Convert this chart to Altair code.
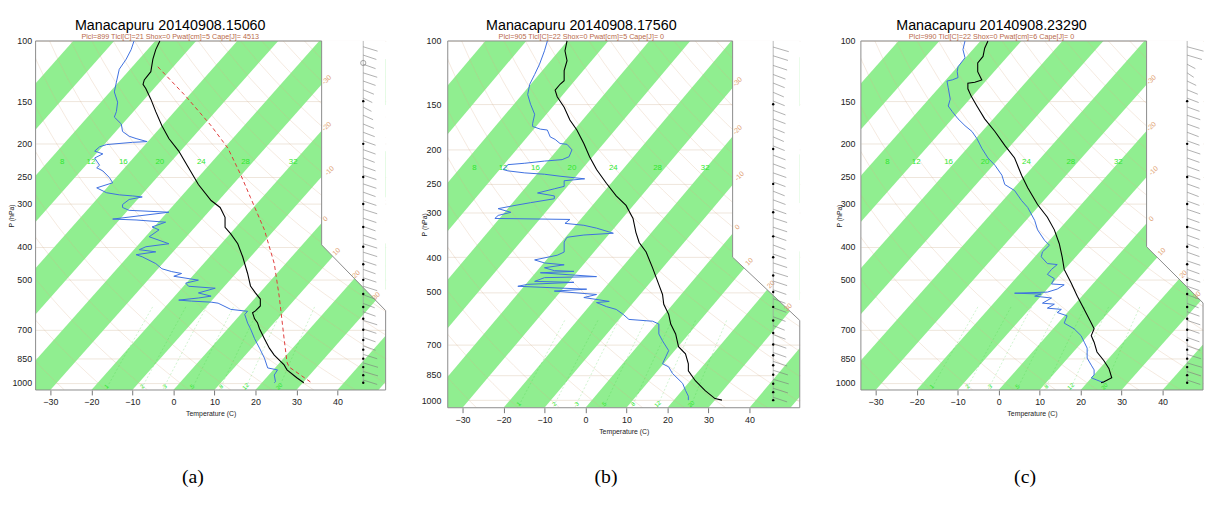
import altair as alt
import pandas as pd
import numpy as np

# ---------------- diagram constants ----------------
SKEW = 74.0            # display degC shift per decade of pressure (skew-T, relative to 1050 hPa)
P_BOTTOM = 1050
P_TOP = 100
P_TICKS = [100, 150, 200, 250, 300, 400, 500, 700, 850, 1000]
T_TICKS = [-30, -20, -10, 0, 10, 20, 30, 40]
BAND_T0 = [-120, -100, -80, -60, -40, -20, 0, 20, 40]
BAND_WIDTH = 10
THETA_C = list(range(-30, 200, 10))
ADIABAT_P = [100, 115, 130, 150, 170, 200, 230, 260, 300, 350, 400, 450, 500,
             550, 600, 650, 700, 750, 800, 850, 900, 950, 1000, 1050]
MIXR_W = [1, 2, 3, 5, 8, 12, 20]
MIXR_P = [600, 700, 800, 900, 1050]

MOIST_LABELS = ["8", "12", "16", "20", "24", "28", "32"]
MOIST_LABEL_T = [-27.1, -20.1, -12.2, -3.3, 6.8, 17.6, 29.2]
MOIST_LABEL_P = 226
MIX_LABELS = ["1", "2", "3", "5", "8", "12", "20"]
MIX_LABEL_T = [-16.3, -7.6, -2.1, 4.6, 11.6, 17.6, 25.8]
MIX_LABEL_P = 1025
ISO_LABELS = ["-30", "-20", "-10", "0", "10", "20", "30"]

BARB_P = [104, 110, 117, 124, 131, 139, 147, 156, 165, 175, 185, 196, 208, 220, 233,
          247, 262, 277, 294, 311, 330, 349, 370, 392, 415, 440, 466, 493, 522, 553,
          586, 620, 657, 696, 737, 780, 826, 875, 927, 982]
DOT_P = [150, 200, 250, 300, 350, 400, 450, 500, 550, 600, 650, 700, 750, 800,
         850, 900, 950, 1000]

# ---------------- panel (a) ----------------
A_TEMP_P = [100, 106, 113, 123, 130, 134, 138, 148, 161, 177, 193, 210, 235, 263, 293,
            307, 328, 351, 367, 392, 428, 479, 521, 546, 569, 596, 616, 624, 650, 667,
            695, 743, 792, 830, 887, 917, 967, 1000]
A_TEMP_T = [-3.3, -4.3, -5.0, -5.5, -7.1, -7.4, -6.7, -5.5, -4.3, -2.8, -1.1, 1.3, 3.7, 6.1, 9.2,
            11.4, 12.6, 12.6, 14.0, 15.7, 16.9, 18.1, 18.8, 20.0, 21.2, 21.2, 20.0, 19.3, 19.8, 20.5,
            21.0, 22.2, 23.4, 24.6, 27.0, 27.7, 30.1, 31.8]
A_DEW_P = [100, 106, 113, 121, 132, 141, 151, 161, 167, 175, 184, 190, 193, 197, 198,
           201, 204, 210, 214, 220, 231, 235, 240, 251, 260, 269, 278, 282, 284, 286,
           291, 301, 307, 313, 317, 332, 334, 339, 350, 357, 374, 392, 400, 408, 414,
           422, 428, 448, 464, 473, 479, 488, 501, 511, 522, 529, 546, 558, 565, 573,
           577, 581, 585, 610, 618, 631, 669, 695, 743, 792, 847, 905, 917, 949, 993, 1000]
A_DEW_T = [-9.6, -10.3, -11.5, -13.2, -13.9, -14.4, -13.6, -13.9, -14.4, -12.7, -12.4, -10.8, -9.1, -6.4, -10.0,
           -16.3, -18.0, -19.2, -17.2, -19.2, -18.0, -18.7, -17.2, -15.6, -14.8, -18.7, -16.3, -13.2, -10.0, -7.6,
           -10.8, -12.4, -12.4, -10.8, -1.1, -14.8, -9.1, -1.9, -5.2, -3.5, -5.9, -1.1, -6.7, -8.3, -4.3,
           -9.1, -7.6, -4.3, -2.8, -0.4, 2.0, 0.1, 6.1, 3.0, 3.7, 10.2, 6.1, 9.2, 6.1, 1.3,
           4.4, 9.2, 10.9, 14.0, 18.1, 17.4, 18.1, 18.8, 19.8, 21.0, 22.2, 23.0, 25.4, 24.6, 24.9, 24.6]
A_PARCEL_P = [119, 145, 177, 206, 246, 287, 357, 448, 558, 743, 870, 899, 1000]
A_PARCEL_T = [-3.8, 3.0, 9.2, 13.3, 16.4, 18.8, 22.2, 24.6, 25.8, 27.0, 27.7, 28.2, 33.7]
A_ISO_T = [37.4, 37.4, 38.1, 37.1, 39.8, 44.6, 49.5]
A_ISO_P = [130, 178, 240, 332, 414, 482, 558]
A_BARB_LEN = [3.5, 3.2, 3.0, 3.4, 3.0, 2.6, 2.2, 2.0, 2.4, 2.6, 2.8, 3.0, 3.0, 2.8, 3.0,
              3.2, 3.2, 3.0, 3.2, 3.4, 3.2, 3.0, 3.2, 3.4, 3.4, 3.2, 3.0, 3.2, 3.4, 3.0,
              2.8, 3.0, 3.4, 3.2, 3.0, 3.0, 3.4, 3.6, 3.6, 3.4]

# ---------------- panel (b) ----------------
B_TEMP_P = [100, 106.5, 113.5, 121, 129, 132, 137, 143, 153, 166, 177, 193, 210, 228, 249,
            270, 287, 312, 341, 364, 387, 429, 477, 508, 541, 577, 614, 654, 710, 743,
            792, 829, 883, 941, 990, 1000]
B_TEMP_T = [-4.5, -5.0, -4.5, -5.2, -5.2, -6.2, -7.4, -6.9, -5.2, -3.8, -2.1, -0.4, 1.0, 2.7, 5.1,
            7.5, 9.9, 11.6, 12.3, 13.1, 14.8, 16.4, 17.9, 18.8, 19.1, 20.3, 20.8, 22.0, 22.7, 24.4,
            25.1, 25.1, 26.8, 29.2, 31.6, 33.3]
B_DEW_P = [100, 106.5, 116, 124, 132, 141, 150, 160, 170, 173, 176, 177, 185, 188, 193,
           194, 201, 210, 214, 216, 219, 221, 228, 230, 233, 235, 238, 242, 245, 254,
           258, 265, 270, 275, 282, 287, 293, 300, 306, 312, 314, 322, 326, 332, 343,
           347, 352, 363, 387, 395, 407, 415, 420, 428, 436, 438, 442, 453, 456, 467,
           470, 476, 482, 491, 497, 508, 518, 531, 535, 549, 559, 577, 596, 603, 614,
           654, 684, 728, 757, 792, 808, 842, 898, 939, 975, 1000]
B_DEW_T = [-9.3, -10.0, -11.2, -12.4, -13.6, -14.1, -13.4, -12.4, -12.9, -12.9, -11.0, -9.3, -8.6, -7.4, -6.2,
           -4.5, -3.3, -4.0, -5.7, -10.0, -14.8, -18.9, -20.1, -18.9, -14.8, -10.0, -6.2, -0.2, -5.2, -5.2,
           -7.6, -11.7, -7.6, -7.6, -13.4, -17.2, -21.3, -18.2, -21.3, -22.1, -3.8, -5.0, -0.4, 2.7, 6.8,
           -0.4, -4.5, -5.2, -5.2, -6.9, -12.4, -10.0, -5.2, -10.0, -7.6, -2.8, -11.0, 2.7, -10.0, -12.4,
           -2.8, -14.1, -16.5, 0.3, -7.6, 2.7, -0.4, 5.8, 2.7, 5.1, 7.5, 9.2, 10.6, 16.4, 17.9,
           17.9, 18.8, 20.3, 19.6, 18.8, 20.3, 21.2, 23.7, 24.4, 25.1, 25.1]
B_ISO_T = [37.1, 37.1, 37.6, 37.1, 40.0, 45.3, 49.5]
B_ISO_P = [130, 177, 238, 330, 412, 477, 552]
B_BARB_LEN = [3.8, 3.6, 3.4, 3.0, 2.8, 2.6, 2.8, 3.0, 3.0, 2.8, 2.6, 2.8, 3.0, 3.0, 3.2,
              3.0, 2.8, 3.0, 3.2, 3.4, 3.4, 3.2, 3.0, 3.2, 3.4, 3.6, 3.4, 3.2, 3.0, 3.2,
              3.0, 2.8, 3.0, 3.2, 3.2, 3.4, 3.6, 3.8, 3.6, 3.4]

# ---------------- panel (c) ----------------
C_TEMP_P = [100, 105, 111, 116, 123, 130, 132, 133, 138, 145, 155, 169, 184, 202, 220,
            247, 269, 301, 328, 357, 392, 428, 466, 511, 558, 610, 669, 695, 728, 761,
            813, 862, 908, 967, 993, 1000]
C_TEMP_T = [-2.6, -3.4, -3.8, -5.1, -5.1, -4.1, -5.8, -7.5, -7.5, -6.7, -5.3, -3.4, -0.9, 1.5, 3.9,
            5.6, 7.1, 9.5, 11.9, 13.6, 14.8, 15.5, 16.0, 17.7, 19.2, 20.9, 22.6, 23.3, 22.6, 23.3,
            24.0, 25.7, 26.9, 27.6, 25.7, 25.0]
C_DEW_P = [100, 106, 112, 119, 123, 128, 130, 131, 137, 148, 155, 161, 169, 177, 184,
           193, 206, 220, 231, 247, 263, 274, 293, 307, 335, 357, 383, 396, 414, 428,
           448, 451, 466, 482, 496, 514, 517, 532, 543, 547, 550, 558, 565, 585, 589,
           605, 610, 623, 637, 669, 695, 728, 761, 792, 847, 888, 917, 949, 967, 980,
           993, 1000]
C_DEW_T = [-8.2, -8.7, -8.2, -9.9, -10.1, -9.9, -11.3, -12.6, -12.3, -11.8, -12.3, -11.3, -9.9, -8.2, -6.5,
           -5.3, -4.1, -2.6, -0.9, 0.8, 1.5, 3.9, 5.6, 7.1, 8.8, 9.5, 11.2, 12.4, 10.7, 10.4,
           11.9, 14.3, 12.9, 11.9, 13.6, 12.9, 16.0, 14.3, 11.9, 3.9, 10.4, 8.8, 12.9, 10.7, 13.6,
           11.9, 15.3, 14.3, 16.7, 16.0, 18.4, 20.1, 20.9, 21.6, 21.6, 22.6, 23.3, 23.3, 22.6, 23.8,
           25.0, 25.7]
C_ISO_T = [37.3, 37.3, 37.8, 37.3, 39.8, 45.1, 48.4]
C_ISO_P = [130, 178, 240, 332, 414, 482, 555]
C_BARB_LEN = [4.0, 3.6, 2.0, 1.6, 2.2, 2.6, 2.8, 3.0, 3.2, 3.0, 2.8, 3.0, 3.2, 3.0, 3.0,
              3.2, 3.0, 2.8, 3.0, 3.2, 3.0, 3.2, 3.0, 2.8, 3.0, 3.2, 3.0, 3.2, 3.0, 3.0,
              2.8, 3.0, 3.2, 3.0, 3.0, 3.2, 3.4, 3.6, 3.4, 3.2]

GREEN = "#90ee90"

PANELS = [
    dict(title="Manacapuru 20140908.15060",
         subtitle="Plcl=899 Tlcl[C]=21 Shox=0 Pwat[cm]=5 Cape[J]= 4513",
         caption="(a)", xmin=-33.6, xmax=51.76, width=355, height=354,
         xcut=36.15, pcut1=395, pcut2=615, staff=46.3, title_dx=-41, cap_off=51, cap_dx=-5,
         lab_pad=4, title_x=-21, temp=(A_TEMP_P, A_TEMP_T), dew=(A_DEW_P, A_DEW_T),
         parcel=(A_PARCEL_P, A_PARCEL_T), iso=(A_ISO_P, A_ISO_T), barb=A_BARB_LEN, circle=True),
    dict(title="Manacapuru 20140908.17560",
         subtitle="Plcl=905 Tlcl[C]=22 Shox=0 Pwat[cm]=5 Cape[J]= 0",
         caption="(b)", xmin=-33.6, xmax=52.28, width=357, height=372,
         xcut=35.9, pcut1=400, pcut2=600, staff=45.8, title_dx=-43, cap_off=33, cap_dx=-5,
         lab_pad=7, title_x=-21, temp=(B_TEMP_P, B_TEMP_T), dew=(B_DEW_P, B_DEW_T),
         parcel=None, iso=(B_ISO_P, B_ISO_T), barb=B_BARB_LEN, circle=False),
    dict(title="Manacapuru 20140908.23290",
         subtitle="Plcl=990 Tlcl[C]=22 Shox=0 Pwat[cm]=6 Cape[J]= 0",
         caption="(c)", xmin=-33.6, xmax=49.87, width=347, height=354,
         xcut=36.1, pcut1=400, pcut2=584, staff=46.0, title_dx=-41, cap_off=51, cap_dx=5,
         lab_pad=6, title_x=-19, temp=(C_TEMP_P, C_TEMP_T), dew=(C_DEW_P, C_DEW_T),
         parcel=None, iso=(C_ISO_P, C_ISO_T), barb=C_BARB_LEN, circle=False),
]


def skew(p):
    return SKEW * np.log10(P_BOTTOM / np.asarray(p, dtype=float))


def build_panel(c):
    xs = alt.Scale(domain=[c["xmin"], c["xmax"]], nice=False, zero=False)
    ys = alt.Scale(type="log", domain=[P_TOP, P_BOTTOM], reverse=True, nice=False)
    ax = alt.Axis(values=T_TICKS, title="Temperature (C)", grid=False, domain=False,
                  ticks=True, tickSize=5, tickColor="#777", labelFontSize=9,
                  labelPadding=3, labelColor="#222", titleFontSize=7,
                  titleFontWeight="normal", titlePadding=3, titleColor="#222",
                  format="d", labelFont="Liberation Sans", titleFont="Liberation Sans")
    ay = alt.Axis(values=P_TICKS, title="P (hPa)", grid=True, gridColor="#eadfd3",
                  gridWidth=0.8, domain=False, ticks=False, labelFontSize=9,
                  labelPadding=c["lab_pad"], labelColor="#222", titleFontSize=7,
                  titleFontWeight="normal", titleX=c["title_x"], titleColor="#222", format="d",
                  labelFont="Liberation Sans", titleFont="Liberation Sans")

    def X(f):
        return alt.X(f, type="quantitative", scale=xs, axis=ax, stack=None)

    def Y(f):
        return alt.Y(f, type="quantitative", scale=ys, axis=ay)

    # isotherm bands (alternate 10 degC isotherm bands)
    rows = []
    for t0 in BAND_T0:
        for p in [P_TOP, P_BOTTOM]:
            s = float(skew(p))
            rows.append(dict(band=t0, p=p, x=t0 + s, x2=t0 + BAND_WIDTH + s))
    bands = alt.Chart(pd.DataFrame(rows)).mark_area(orient="horizontal", clip=True, color=GREEN).encode(
        x=X("x"), x2="x2:Q", y=Y("p"), detail="band:N")

    # dry adiabats (background reference curves)
    arows = []
    for th in THETA_C:
        for p in ADIABAT_P:
            t = (th + 273.15) * (p / 1000.0) ** 0.2857 - 273.15
            arows.append(dict(theta=th, p=p, x=t + float(skew(p))))
    adiab = alt.Chart(pd.DataFrame(arows)).mark_line(
        clip=True, color="#d9b08a", strokeWidth=0.6, opacity=0.45).encode(
        x=X("x"), y=Y("p"), detail="theta:N", order="p:Q")

    # saturation mixing-ratio lines (background reference)
    mrows = []
    for w in MIXR_W:
        for p in MIXR_P:
            e = w * p / (622.0 + w)
            lnr = np.log(e / 6.112)
            td = 243.5 * lnr / (17.67 - lnr)
            mrows.append(dict(w=w, p=p, x=td + float(skew(p))))
    mixr = alt.Chart(pd.DataFrame(mrows)).mark_line(
        clip=True, color="#3bd13b", strokeWidth=0.6, opacity=0.4, strokeDash=[2, 2]).encode(
        x=X("x"), y=Y("p"), detail="w:N", order="p:Q")

    # white cut-out at upper right
    cut_df = pd.DataFrame(dict(p=[P_TOP, c["pcut1"], c["pcut2"]],
                               x=[c["xcut"], c["xcut"], c["xmax"]],
                               x2=[c["xmax"]] * 3))
    cut = alt.Chart(cut_df).mark_area(orient="horizontal", color="white").encode(
        x=X("x"), x2="x2:Q", y=Y("p"))

    # frame outline
    frame_df = pd.DataFrame(dict(
        i=list(range(7)),
        x=[c["xmin"], c["xmin"], c["xcut"], c["xcut"], c["xmax"], c["xmax"], c["xmin"]],
        p=[P_BOTTOM, P_TOP, P_TOP, c["pcut1"], c["pcut2"], P_BOTTOM, P_BOTTOM]))
    frame = alt.Chart(frame_df).mark_line(color="#8a8a8a", strokeWidth=1).encode(
        x=X("x"), y=Y("p"), order="i:Q")

    # labels
    moist_df = pd.DataFrame(dict(t=MOIST_LABELS, x=MOIST_LABEL_T, p=[MOIST_LABEL_P] * len(MOIST_LABELS)))
    moist = alt.Chart(moist_df).mark_text(clip=True, color="#2ee82e", fontSize=8,
                                          font="Liberation Sans").encode(x=X("x"), y=Y("p"), text="t:N")
    mix_df = pd.DataFrame(dict(t=MIX_LABELS, x=MIX_LABEL_T, p=[MIX_LABEL_P] * len(MIX_LABELS)))
    mix = alt.Chart(mix_df).mark_text(clip=True, color="#2ee82e", fontSize=6, angle=315,
                                      font="Liberation Sans").encode(x=X("x"), y=Y("p"), text="t:N")
    iso_p, iso_t = c["iso"]
    iso_df = pd.DataFrame(dict(t=ISO_LABELS, x=iso_t, p=iso_p))
    iso = alt.Chart(iso_df).mark_text(clip=True, color="#e0a070", fontSize=7, angle=315,
                                      font="Liberation Sans").encode(x=X("x"), y=Y("p"), text="t:N")

    # wind barbs column
    staff_df = pd.DataFrame(dict(x=[c["staff"]], p=[P_TOP], p2=[1000]))
    staff = alt.Chart(staff_df).mark_rule(color="#9a9a9a", strokeWidth=0.7).encode(
        x=X("x"), y=Y("p"), y2="p2:Q")
    barb_df = pd.DataFrame(dict(p=BARB_P, x=[c["staff"]] * len(BARB_P),
                                x2=[c["staff"] + v for v in c["barb"]],
                                p2=[v * 1.03 for v in BARB_P]))
    barbs = alt.Chart(barb_df).mark_rule(color="#7a7a7a", strokeWidth=0.6).encode(
        x=X("x"), x2="x2:Q", y=Y("p"), y2="p2:Q")
    dots_df = pd.DataFrame(dict(p=DOT_P, x=[c["staff"]] * len(DOT_P)))
    dots = alt.Chart(dots_df).mark_circle(size=6, color="black", opacity=1).encode(x=X("x"), y=Y("p"))

    layers = [bands, adiab, mixr, cut, frame, moist, mix, iso, staff, barbs, dots]
    if c["circle"]:
        circ = alt.Chart(pd.DataFrame(dict(p=[116], x=[c["staff"]]))).mark_point(
            size=28, color="#666", strokeWidth=0.8).encode(x=X("x"), y=Y("p"))
        layers.append(circ)

    dp, dt = c["dew"]
    dew = alt.Chart(pd.DataFrame(dict(i=range(len(dp)), p=dp, x=dt))).mark_line(
        color="#3d6fe0", strokeWidth=1).encode(x=X("x"), y=Y("p"), order="i:Q")
    tp, tt = c["temp"]
    temp = alt.Chart(pd.DataFrame(dict(i=range(len(tp)), p=tp, x=tt))).mark_line(
        color="black", strokeWidth=1.1).encode(x=X("x"), y=Y("p"), order="i:Q")
    layers += [dew, temp]
    if c["parcel"] is not None:
        pp, pt = c["parcel"]
        parcel = alt.Chart(pd.DataFrame(dict(i=range(len(pp)), p=pp, x=pt))).mark_line(
            color="#e03a3a", strokeWidth=1, strokeDash=[4, 3]).encode(x=X("x"), y=Y("p"), order="i:Q")
        layers.append(parcel)

    panel = alt.layer(*layers).properties(
        width=c["width"], height=c["height"],
        title=alt.TitleParams(text=c["title"], subtitle=c["subtitle"], anchor="middle", frame="group",
                              dx=c["title_dx"], fontSize=14.5, fontWeight="normal", font="Liberation Sans",
                              color="black", subtitleFontSize=7.3, subtitleColor="#b8694a",
                              subtitleFont="Liberation Sans", subtitlePadding=-1, offset=-4))
    return alt.vconcat(panel, title=alt.TitleParams(
        text=c["caption"], orient="bottom", anchor="middle", font="Liberation Serif", fontSize=20,
        fontWeight="normal", color="black", offset=c["cap_off"], dx=c["cap_dx"]))


chart = alt.hconcat(*[build_panel(c) for c in PANELS], spacing=33).properties(
    padding={"left": 0, "top": 7, "right": 0, "bottom": 0}
).configure_view(stroke=None)

chart.save("out.html", embed_options={"renderer": "svg", "actions": False})
